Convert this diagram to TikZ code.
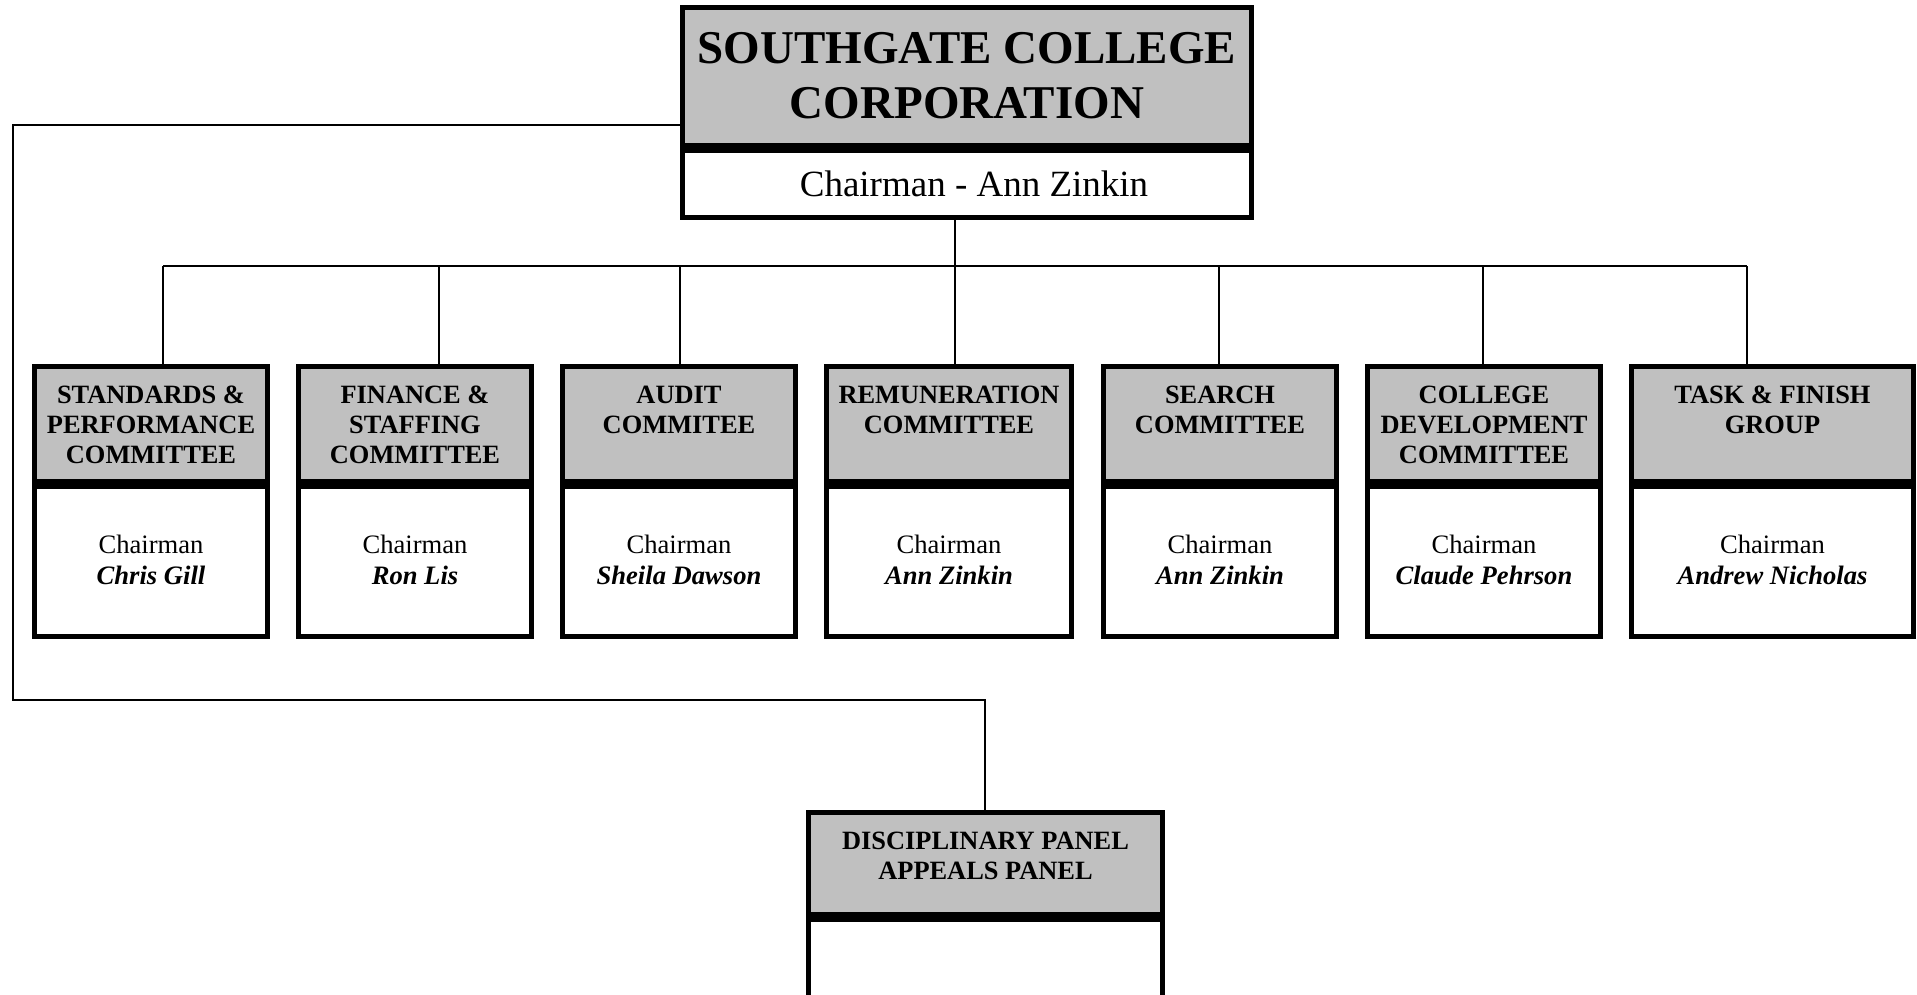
\documentclass[tikz,border=0pt]{standalone}
\usepackage{fontspec}
\setmainfont{Liberation Serif}
\definecolor{boxgray}{RGB}{192,192,192}
\tikzset{
  boxbase/.style={draw=black, line width=2.7pt, rectangle, inner sep=0pt, outer sep=0pt, anchor=north west},
  hdr/.style={boxbase, fill=boxgray},
  wbox/.style={boxbase, fill=white},
  conn/.style={draw=black, line width=1pt},
  htext/.style={font=\bfseries\fontsize{13.2}{15}\selectfont, align=center, inner sep=0pt, anchor=north},
  ctext/.style={font=\fontsize{13.3}{15.3}\selectfont, align=center, inner sep=0pt, anchor=north},
}
% style, name, x1, y1, x2, y2 (outer edges, px)
\newcommand\outerbox[6]{%
  \node[#1, minimum width={(#5-#3-5.4)*0.5pt}, minimum height={(#6-#4-5.4)*0.5pt}] (#2) at ({#3+2.7},{#4+2.7}) {};}
% index, x1, x2, header, chairman name
\newcommand\committee[5]{%
  \outerbox{hdr}{h#1}{#2}{364}{#3}{484}
  \outerbox{wbox}{w#1}{#2}{484}{#3}{639}
  \node[htext] (ht#1) at ({(#2+#3)/2},385.5) {#4};
  \node[ctext] (wt#1) at ({(#2+#3)/2},535) {Chairman\\\textbf{\textit{#5}}};}
\begin{document}
\begin{tikzpicture}[x=0.5pt, y=-0.5pt]
\useasboundingbox (0,0) rectangle (1917,995);
\clip (0,0) rectangle (1917,995);
\fill[white] (0,0) rectangle (1917,995);

% top box
\outerbox{hdr}{tg}{680}{5}{1254}{148}
\outerbox{wbox}{tw}{680}{148}{1254}{220}
\node[font=\bfseries\fontsize{23.5}{27.5}\selectfont, align=center, inner sep=0pt, anchor=north] (tt) at (967,31.5) {SOUTHGATE COLLEGE\\CORPORATION};
\node[font=\fontsize{18.5}{22}\selectfont, inner sep=0pt, anchor=base] (tc) at (974,196.5) {Chairman - Ann Zinkin};

% committees
\committee{1}{32}{270}{STANDARDS \&\\PERFORMANCE\\COMMITTEE}{Chris Gill}
\committee{2}{296}{534}{FINANCE \&\\STAFFING\\COMMITTEE}{Ron Lis}
\committee{3}{560}{798}{AUDIT\\COMMITEE}{Sheila Dawson}
\committee{4}{824}{1074}{REMUNERATION\\COMMITTEE}{Ann Zinkin}
\committee{5}{1101}{1339}{SEARCH\\COMMITTEE}{Ann Zinkin}
\committee{6}{1365}{1603}{COLLEGE\\DEVELOPMENT\\COMMITTEE}{Claude Pehrson}
\committee{7}{1629}{1916}{TASK \& FINISH\\GROUP}{Andrew Nicholas}

% disciplinary
\outerbox{hdr}{dg}{806}{810}{1165}{917}
\outerbox{wbox}{dw}{806}{917}{1165}{1010}
\node[htext] (dt) at (985.5,831.5) {DISCIPLINARY PANEL\\APPEALS PANEL};

% bus coordinates
\coordinate (b1) at (163,266);
\coordinate (b2) at (439,266);
\coordinate (b3) at (680,266);
\coordinate (b4) at (955,266);
\coordinate (b5) at (1219,266);
\coordinate (b6) at (1483,266);
\coordinate (b7) at (1747,266);
\draw[conn] (b1) -- (b7);
\draw[conn] (tw.south -| b4) -- (b4);
\foreach \i in {1,...,7} {\draw[conn] (b\i) -- (h\i.north -| b\i);}

% left loop to disciplinary panel
\coordinate (l1) at (13,125);
\coordinate (l2) at (13,700);
\coordinate (l3) at (985,700);
\draw[conn] (tg.west |- l1) -- (l1) -- (l2) -- (l3) -- (dg.north -| l3);
\end{tikzpicture}
\end{document}
